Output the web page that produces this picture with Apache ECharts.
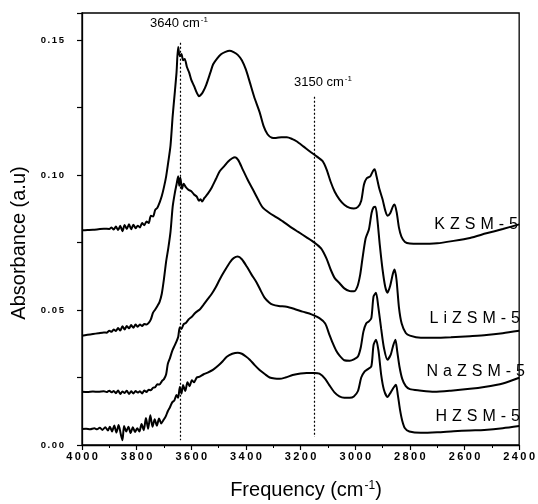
<!DOCTYPE html>
<html>
<head>
<meta charset="utf-8">
<script src="https://cdn.jsdelivr.net/npm/echarts@6/dist/echarts.min.js"></script>
<style>
  html, body { margin: 0; padding: 0; background: #fff; }
  #chart { width: 538px; height: 504px; }
</style>
</head>
<body>
<div id="chart"></div>
<script>
// IR spectra of cation-exchanged ZSM-5 samples (absorbance vs wavenumber)
const kFreq = [4000,3980,3960,3940,3920,3900,3892,3884,3876,3868,3860,3852,3844,3836,3828,3820,3812,3804,3796,3788,3780,3772,3764,3756,3748,3740,3732,3724,3716,3708,3700,3692,3684,3676,3668,3660,3654,3648,3642,3636,3630,3624,3616,3608,3600,3590,3580,3572,3564,3556,3545,3530,3520,3505,3490,3475,3460,3445,3430,3415,3400,3386,3370,3350,3335,3321,3305,3290,3270,3250,3230,3215,3190,3167,3140,3120,3105,3090,3075,3058,3040,3020,3005,2990,2978,2968,2958,2945,2935,2929,2922,2912,2900,2890,2882,2872,2862,2856,2848,2840,2831,2818,2800,2765,2700,2640,2580,2520,2460,2400];
const kAbs  = [0.0795,0.0796,0.0797,0.0799,0.0801,0.0800,0.0806,0.0798,0.0809,0.0796,0.0812,0.0792,0.0815,0.0800,0.0818,0.0799,0.0816,0.0803,0.0812,0.0806,0.0822,0.0814,0.0828,0.0822,0.0849,0.0846,0.0871,0.0879,0.0898,0.0922,0.0955,0.0995,0.1050,0.1110,0.1220,0.1310,0.1380,0.1474,0.1440,0.1448,0.1425,0.1430,0.1400,0.1380,0.1352,0.1330,0.1305,0.1292,0.1298,0.1310,0.1335,0.1380,0.1410,0.1432,0.1448,0.1456,0.1460,0.1455,0.1445,0.1425,0.1390,0.1344,0.1290,0.1233,0.1180,0.1151,0.1138,0.1137,0.1140,0.1140,0.1133,0.1125,0.1106,0.1088,0.1068,0.1052,0.1021,0.0975,0.0938,0.0910,0.0890,0.0878,0.0876,0.0882,0.0905,0.0965,0.0988,0.0995,0.1015,0.1021,0.0995,0.0950,0.0910,0.0868,0.0849,0.0858,0.0884,0.0891,0.0860,0.0805,0.0772,0.0752,0.0746,0.0745,0.0747,0.0756,0.0767,0.0784,0.0800,0.0817];

const liFreq = [4000,3980,3960,3940,3920,3910,3900,3892,3884,3876,3868,3860,3852,3844,3836,3828,3820,3812,3804,3796,3788,3780,3772,3764,3756,3748,3740,3732,3724,3716,3708,3700,3692,3684,3676,3668,3660,3654,3648,3644,3640,3634,3628,3620,3610,3600,3590,3580,3572,3566,3560,3552,3540,3525,3510,3496,3480,3465,3450,3440,3428,3412,3395,3375,3355,3339,3315,3288,3265,3240,3210,3178,3150,3125,3105,3090,3075,3058,3040,3020,3005,2992,2982,2974,2962,2950,2940,2933,2926,2919,2910,2900,2890,2882,2872,2862,2856,2849,2840,2830,2815,2800,2760,2710,2650,2580,2520,2460,2400];
const liAbs  = [0.0405,0.0408,0.0411,0.0414,0.0417,0.0416,0.0423,0.0419,0.0428,0.0422,0.0433,0.0424,0.0440,0.0428,0.0441,0.0432,0.0444,0.0434,0.0446,0.0438,0.0446,0.0441,0.0448,0.0446,0.0452,0.0465,0.0490,0.0502,0.0515,0.0530,0.0560,0.0615,0.0680,0.0730,0.0790,0.0884,0.0935,0.0965,0.0995,0.0960,0.0990,0.0948,0.0968,0.0955,0.0945,0.0940,0.0928,0.0920,0.0905,0.0910,0.0902,0.0915,0.0930,0.0954,0.0985,0.1014,0.1032,0.1050,0.1062,0.1066,0.1055,0.1021,0.0985,0.0947,0.0908,0.0880,0.0860,0.0843,0.0828,0.0810,0.0790,0.0769,0.0750,0.0728,0.0690,0.0650,0.0618,0.0600,0.0580,0.0570,0.0569,0.0587,0.0630,0.0687,0.0765,0.0798,0.0860,0.0880,0.0882,0.0836,0.0740,0.0650,0.0585,0.0564,0.0590,0.0635,0.0650,0.0613,0.0510,0.0450,0.0415,0.0405,0.0397,0.0397,0.0399,0.0403,0.0407,0.0414,0.0423];

const naFreq = [4000,3980,3960,3940,3920,3910,3900,3892,3884,3876,3868,3860,3852,3844,3836,3828,3820,3812,3804,3796,3788,3780,3772,3764,3756,3748,3740,3732,3724,3716,3708,3700,3692,3686,3678,3670,3662,3654,3648,3642,3636,3628,3620,3610,3598,3585,3569,3555,3540,3525,3510,3496,3478,3459,3445,3430,3415,3397,3380,3361,3345,3332,3315,3302,3280,3251,3220,3193,3160,3131,3110,3095,3083,3070,3058,3040,3020,3005,2990,2980,2970,2960,2950,2941,2933,2924,2916,2905,2895,2882,2870,2862,2853,2846,2838,2828,2815,2800,2765,2711,2650,2580,2528,2460,2400];
const naAbs  = [0.0197,0.0196,0.0198,0.0197,0.0199,0.0196,0.0201,0.0195,0.0200,0.0192,0.0202,0.0189,0.0198,0.0193,0.0201,0.0189,0.0199,0.0191,0.0200,0.0194,0.0199,0.0191,0.0202,0.0196,0.0205,0.0203,0.0212,0.0214,0.0225,0.0224,0.0236,0.0244,0.0262,0.0300,0.0322,0.0348,0.0366,0.0384,0.0400,0.0436,0.0430,0.0448,0.0452,0.0465,0.0475,0.0490,0.0502,0.0520,0.0540,0.0560,0.0585,0.0613,0.0645,0.0676,0.0692,0.0698,0.0688,0.0661,0.0632,0.0602,0.0570,0.0546,0.0528,0.0520,0.0515,0.0512,0.0503,0.0494,0.0484,0.0470,0.0450,0.0410,0.0379,0.0350,0.0332,0.0314,0.0312,0.0317,0.0328,0.0360,0.0420,0.0450,0.0458,0.0470,0.0550,0.0564,0.0515,0.0430,0.0360,0.0316,0.0335,0.0365,0.0390,0.0345,0.0290,0.0245,0.0218,0.0207,0.0202,0.0197,0.0201,0.0208,0.0215,0.0228,0.0249];

const hFreq = [4000,3985,3970,3955,3945,3935,3925,3915,3905,3898,3890,3882,3874,3866,3858,3852,3846,3838,3830,3822,3814,3806,3798,3790,3782,3774,3766,3758,3750,3742,3734,3726,3718,3710,3702,3694,3686,3678,3670,3662,3654,3648,3642,3636,3630,3622,3614,3606,3598,3590,3580,3569,3555,3540,3521,3500,3485,3470,3450,3430,3415,3400,3386,3368,3350,3330,3313,3295,3277,3255,3229,3200,3178,3150,3131,3110,3095,3076,3058,3040,3020,3005,2990,2978,2966,2955,2941,2933,2924,2915,2905,2895,2882,2870,2860,2851,2844,2836,2828,2818,2802,2760,2700,2640,2580,2528,2460,2400];
const hAbs  = [0.0059,0.0060,0.0058,0.0062,0.0058,0.0064,0.0056,0.0066,0.0054,0.0068,0.0050,0.0072,0.0046,0.0074,0.0040,0.0018,0.0070,0.0050,0.0068,0.0044,0.0066,0.0048,0.0062,0.0050,0.0078,0.0055,0.0100,0.0060,0.0110,0.0068,0.0095,0.0072,0.0098,0.0080,0.0092,0.0105,0.0125,0.0140,0.0158,0.0165,0.0185,0.0175,0.0215,0.0190,0.0222,0.0200,0.0232,0.0218,0.0240,0.0232,0.0250,0.0253,0.0262,0.0268,0.0278,0.0295,0.0310,0.0327,0.0338,0.0342,0.0338,0.0328,0.0316,0.0296,0.0278,0.0262,0.0250,0.0246,0.0245,0.0250,0.0259,0.0265,0.0267,0.0267,0.0264,0.0245,0.0222,0.0195,0.0180,0.0175,0.0175,0.0180,0.0200,0.0250,0.0272,0.0280,0.0292,0.0370,0.0390,0.0350,0.0260,0.0205,0.0178,0.0195,0.0212,0.0223,0.0185,0.0130,0.0090,0.0062,0.0050,0.0045,0.0047,0.0051,0.0054,0.0056,0.0062,0.0070];

const sampleNames = ['KZSM-5', 'LiZSM-5', 'NaZSM-5', 'HZSM-5'];
const xTicks = [4000, 3800, 3600, 3400, 3200, 3000, 2800, 2600, 2400];
const yTickLabels = ['0.00', '0.05', '0.10', '0.15'];
// marked band positions (cm-1) with the top and bottom of each guide line
const bandPos = [3640, 3150];
const bandTop = [0.149, 0.129];
const bandBottom = [0.0018, 0.003];

const font = 'Liberation Sans, Arial, sans-serif';

// letter-spaced text built from rich-text tokens: every glyph but the last gets right padding
const letterSpaced = s => {
  const ch = String(s).split('');
  return ch.map((c, i) => '{' + (i < ch.length - 1 ? 'c' : 'e') + '|' + c + '}').join('');
};
const spacedRich = (size, gap, weight) => ({
  c: { fontSize: size, fontFamily: font, fontWeight: weight, color: '#000', fill: '#000', padding: [0, gap, 0, 0] },
  e: { fontSize: size, fontFamily: font, fontWeight: weight, color: '#000', fill: '#000' }
});

const pairs = (xs, ys) => xs.map((x, i) => [x, ys[i]]);

const curves = [
  pairs(kFreq, kAbs),
  pairs(liFreq, liAbs),
  pairs(naFreq, naAbs),
  pairs(hFreq, hAbs)
];

const chart = echarts.init(document.getElementById('chart'), null, { renderer: 'canvas' });

const series = curves.map((d, i) => ({
  name: sampleNames[i],
  type: 'line',
  data: d,
  showSymbol: false,
  smooth: 0.25,
  lineStyle: { color: '#000', width: 2 },
  silent: true,
  z: 3
}));

series[0].markLine = {
  silent: true,
  symbol: ['none', 'none'],
  label: { show: false },
  lineStyle: { color: '#000', width: 1.2, type: [2, 2] },
  data: bandPos.map((f, i) => [
    { coord: [f, bandTop[i]] },
    { coord: [f, bandBottom[i]] }
  ])
};

const sampleLabelPos = [
  { x: 518, y: 225 },
  { x: 520, y: 319 },
  { x: 525, y: 372 },
  { x: 520, y: 417 }
];

const graphics = [];
sampleNames.forEach((n, i) => {
  graphics.push({
    type: 'text',
    x: sampleLabelPos[i].x,
    y: sampleLabelPos[i].y,
    z: 10,
    style: {
      text: letterSpaced(n),
      rich: spacedRich(16, 5, 'normal'),
      fill: '#000',
      align: 'right',
      verticalAlign: 'middle'
    }
  });
});

const supRich = size => ({
  m: { fontSize: size, fontFamily: font, fill: '#000', color: '#000' },
  s: { fontSize: Math.round(size * 0.6), fontFamily: font, verticalAlign: 'top', color: '#000', padding: [0, 0, Math.round(size * 0.45), 1] }
});

// band annotations
graphics.push({
  type: 'text', x: 179, y: 23, z: 10,
  style: { text: '{m|' + bandPos[0] + ' cm}{s|-1}', rich: supRich(13), align: 'center', verticalAlign: 'middle', fill: '#000' }
});
graphics.push({
  type: 'text', x: 323, y: 82, z: 10,
  style: { text: '{m|' + bandPos[1] + ' cm}{s|-1}', rich: supRich(13), align: 'center', verticalAlign: 'middle', fill: '#000' }
});

// axis titles
graphics.push({
  type: 'text', x: 306, y: 490, z: 10,
  style: { text: '{m|Frequency (cm}{s|-1}{m|)}', rich: supRich(20), align: 'center', verticalAlign: 'middle', fill: '#000' }
});
graphics.push({
  type: 'text', x: 19, y: 243, rotation: Math.PI / 2, z: 10,
  style: { text: 'Absorbance (a.u)', font: '20px ' + font, align: 'center', verticalAlign: 'middle', fill: '#000' }
});

chart.setOption({
  animation: false,
  backgroundColor: '#fff',
  grid: {
    left: 82, right: 18, top: 13, bottom: 59,
    show: true, borderColor: '#000', borderWidth: 1.3,
    containLabel: false
  },
  xAxis: {
    type: 'value',
    inverse: true,
    min: 2400,
    max: 4000,
    interval: 200,
    axisLine: { lineStyle: { color: '#000', width: 1.3 } },
    axisTick: { show: true, length: 5, lineStyle: { color: '#000', width: 1.2 } },
    minorTick: { show: true, splitNumber: 2, length: 3, lineStyle: { color: '#000' } },
    splitLine: { show: false },
    axisLabel: {
      margin: 6,
      rich: spacedRich(11, 2.4, 'bold'),
      formatter: v => xTicks.indexOf(v) >= 0 ? letterSpaced(v) : ''
    }
  },
  yAxis: {
    type: 'value',
    min: 0,
    max: 0.16,
    interval: 0.025,
    axisLine: { lineStyle: { color: '#000', width: 1.3 } },
    axisTick: { show: true, length: 5, lineStyle: { color: '#000', width: 1.2 } },
    splitLine: { show: false },
    axisLabel: {
      margin: 18,
      rich: spacedRich(9.5, 1.6, 'bold'),
      formatter: v => {
        const s = v.toFixed(2);
        return yTickLabels.indexOf(s) >= 0 && Math.abs(v * 20 - Math.round(v * 20)) < 1e-6 ? letterSpaced(s) : '';
      }
    }
  },
  series: series,
  graphic: graphics
});
</script>
</body>
</html>
